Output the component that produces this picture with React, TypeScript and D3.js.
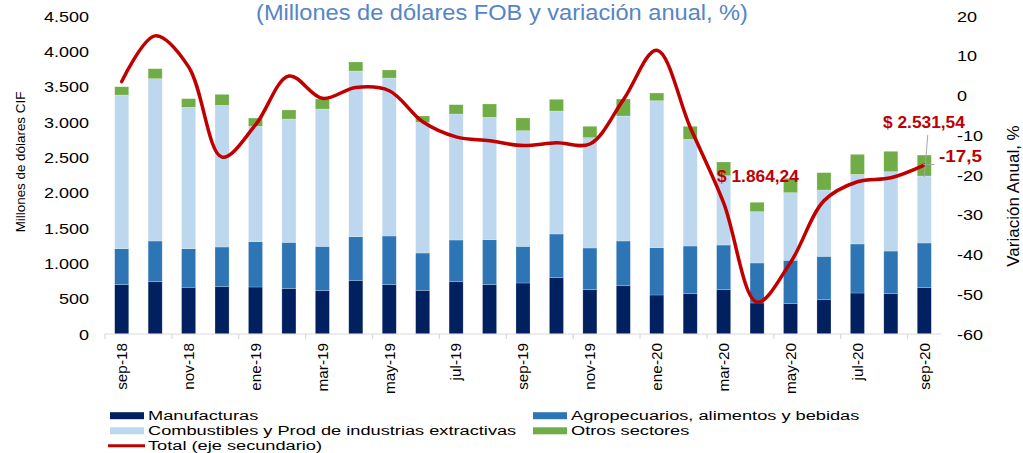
import React from "react";
import * as d3 from "d3";

const categories = [
  "sep-18", "oct-18", "nov-18", "dic-18", "ene-19", "feb-19", "mar-19", "abr-19", "may-19",
  "jun-19", "jul-19", "ago-19", "sep-19", "oct-19", "nov-19", "dic-19", "ene-20", "feb-20",
  "mar-20", "abr-20", "may-20", "jun-20", "jul-20", "ago-20", "sep-20",
];

const manufacturas = [698, 740, 661, 669, 665, 641, 613, 754, 698, 618, 740, 698, 722, 797, 627, 683, 552, 570, 627, 439, 429, 485, 580, 570, 655];
const agropecuarios = [509, 576, 546, 562, 641, 656, 627, 623, 689, 528, 590, 636, 518, 618, 590, 633, 669, 675, 632, 566, 614, 614, 694, 604, 633];
const combustibles = [2175, 2297, 2001, 2005, 1633, 1745, 1944, 2344, 2235, 1849, 1783, 1732, 1637, 1740, 1561, 1769, 2080, 1510, 981, 726, 957, 939, 985, 1123, 948];
const otros = [117, 141, 122, 155, 117, 128, 141, 128, 114, 90, 132, 189, 180, 166, 161, 240, 109, 184, 194, 133, 203, 245, 283, 288, 296];
const variacion = [3.5, 15.0, 7.2, -15.5, -7.4, 4.9, -0.7, 2.0, 1.2, -6.6, -10.4, -11.4, -12.6, -11.9, -12.2, -1.1, 11.4, -8.0, -27.0, -52.0, -42.0, -26.5, -21.7, -20.7, -17.5];

const leftTicks = [0, 500, 1000, 1500, 2000, 2500, 3000, 3500, 4000, 4500];
const rightTicks = [-60, -50, -40, -30, -20, -10, 0, 10, 20];

const seriesKeys = ["manufacturas", "agropecuarios", "combustibles", "otros"];
const seriesNames = [
  "Manufacturas",
  "Agropecuarios, alimentos y bebidas",
  "Combustibles y Prod de industrias extractivas",
  "Otros sectores",
];
const lineName = "Total (eje secundario)";
const title = "(Millones de dólares FOB y variación anual, %)";
const leftTitle = "Millones de dólares CIF";
const rightTitle = "Variación Anual, %";
const annotLow = { index: 19, text: "$ 1.864,24" };
const annotLast = { index: 24, text: "$ 2.531,54", varText: "-17,5" };

const colors: Record<string, string> = {
  manufacturas: "#002060",
  agropecuarios: "#2E75B6",
  combustibles: "#BDD7EE",
  otros: "#70AD47",
};
const RED = "#C00000";
const FONT = "'Liberation Sans', Arial, Helvetica, sans-serif";

const locale = d3.formatLocale({ thousands: ".", decimal: ",", grouping: [3], currency: ["$", ""] });
const fmt = locale.format(",");

function SText(props: any) {
  const { x, y, sx = 1, children, ...rest } = props;
  return (
    <text transform={`translate(${x},${y}) scale(${sx},1)`} fontFamily={FONT} {...rest}>
      {children}
    </text>
  );
}

export default function App() {
  const W = 1023;
  const H = 453;
  const x = d3.scaleBand<string>().domain(categories).range([105, 941]).padding(0);
  const yL = d3.scaleLinear().domain([0, 4500]).range([334, 16]);
  const yR = d3.scaleLinear().domain([-60, 20]).range([334, 16]);
  const barW = x.bandwidth() * 0.42;
  const cx = (c: string) => (x(c) as number) + x.bandwidth() / 2;

  const rows = categories.map((c, i) => ({
    cat: c,
    manufacturas: manufacturas[i],
    agropecuarios: agropecuarios[i],
    combustibles: combustibles[i],
    otros: otros[i],
  }));
  const stacked = d3.stack<any>().keys(seriesKeys)(rows);

  const line = d3
    .line<number>()
    .x((_, i) => cx(categories[i]))
    .y((v) => yR(v))
    .curve(d3.curveCatmullRom.alpha(0.5));

  const totals = rows.map((r) => r.manufacturas + r.agropecuarios + r.combustibles + r.otros);

  const lastX = cx(categories[annotLast.index]);
  const lastY = yR(variacion[annotLast.index]);
  const lastTop = yL(totals[annotLast.index]);

  const legend = [
    { type: "rect", key: "manufacturas", name: seriesNames[0], x: 110, y: 415.7 },
    { type: "rect", key: "agropecuarios", name: seriesNames[1], x: 533, y: 415.7 },
    { type: "rect", key: "combustibles", name: seriesNames[2], x: 110, y: 430.8 },
    { type: "rect", key: "otros", name: seriesNames[3], x: 533, y: 430.8 },
    { type: "line", key: "total", name: lineName, x: 108, y: 445.7 },
  ];

  return (
    <svg
      width={W}
      height={H}
      style={{ position: "absolute", left: 0, top: 0, display: "block", background: "#fff" }}
    >
      {/* title */}
      <SText x={502} y={19.5} sx={1.05} fontSize={22.5} fill="#5585C5" textAnchor="middle">
        {title}
      </SText>

      {/* bars */}
      {stacked.map((s) => (
        <g key={s.key} fill={colors[s.key]}>
          {s.map((d, i) => (
            <rect
              key={i}
              x={cx(categories[i]) - barW / 2}
              y={yL(d[1])}
              width={barW}
              height={yL(d[0]) - yL(d[1])}
              stroke="#ffffff"
              strokeOpacity={0.35}
              strokeWidth={0.6}
            />
          ))}
        </g>
      ))}

      {/* x axis */}
      <line x1={105} x2={941} y1={334} y2={334} stroke="#D9D9D9" strokeWidth={1.2} />
      {categories.map((c, i) =>
        i % 2 === 0 ? (
          <line key={"t" + i} x1={x(c) as number} x2={x(c) as number} y1={334} y2={339} stroke="#D9D9D9" strokeWidth={1.2} />
        ) : null
      )}
      {categories.map((c, i) =>
        i % 2 === 0 ? (
          <text
            key={"l" + i}
            transform={`translate(${cx(c)},343) rotate(-90)`}
            dy="0.35em"
            textAnchor="end"
            fontFamily={FONT}
            fontSize={15.3}
            fill="#000"
          >
            {c}
          </text>
        ) : null
      )}

      {/* left axis labels */}
      {leftTicks.map((t) => (
        <SText key={t} x={89} y={yL(t) + 5.5} sx={1.17} fontSize={15.4} textAnchor="end" fill="#000">
          {fmt(t)}
        </SText>
      ))}
      {/* right axis labels */}
      {rightTicks.map((t) => (
        <SText key={t} x={957} y={yR(t) + 5.5} sx={1.17} fontSize={15.4} textAnchor="start" fill="#000">
          {String(t)}
        </SText>
      ))}

      {/* axis titles */}
      <text transform={`translate(25,162) rotate(-90)`} textAnchor="middle" fontFamily={FONT} fontSize={13.4} fill="#000">
        {leftTitle}
      </text>
      <text transform={`translate(1019,196) rotate(-90)`} textAnchor="middle" fontFamily={FONT} fontSize={17} fill="#000">
        {rightTitle}
      </text>

      {/* line */}
      <path d={line(variacion) || ""} fill="none" stroke={RED} strokeWidth={3.5} strokeLinejoin="round" strokeLinecap="round" />

      {/* annotations */}
      <SText x={717} y={182.3} sx={1.05} fontSize={16.5} fontWeight="bold" fill={RED}>
        {annotLow.text}
      </SText>
      <line x1={lastX + 3.5} y1={135} x2={lastX} y2={lastTop + 22} stroke="#A6A6A6" strokeWidth={1} />
      <line x1={lastX - 1} y1={lastY - 0.5} x2={lastX + 10} y2={lastY - 0.5} stroke="#A6A6A6" strokeWidth={1} />
      <SText x={883} y={128.3} sx={1.05} fontSize={16.5} fontWeight="bold" fill={RED}>
        {annotLast.text}
      </SText>
      <SText x={939} y={161.7} sx={1.18} fontSize={16} fontWeight="bold" fill={RED}>
        {annotLast.varText}
      </SText>

      {/* legend */}
      {legend.map((l) => (
        <g key={l.key}>
          {l.type === "rect" ? (
            <rect x={l.x} y={l.y - 3.5} width={34} height={7} fill={colors[l.key]} />
          ) : (
            <line x1={l.x} x2={l.x + 37} y1={l.y} y2={l.y} stroke={RED} strokeWidth={3} />
          )}
          <SText x={l.type === "rect" ? l.x + 38 : l.x + 40} y={l.y + 4.6} sx={1.35} fontSize={13.5} fill="#000">
            {l.name}
          </SText>
        </g>
      ))}
    </svg>
  );
}
